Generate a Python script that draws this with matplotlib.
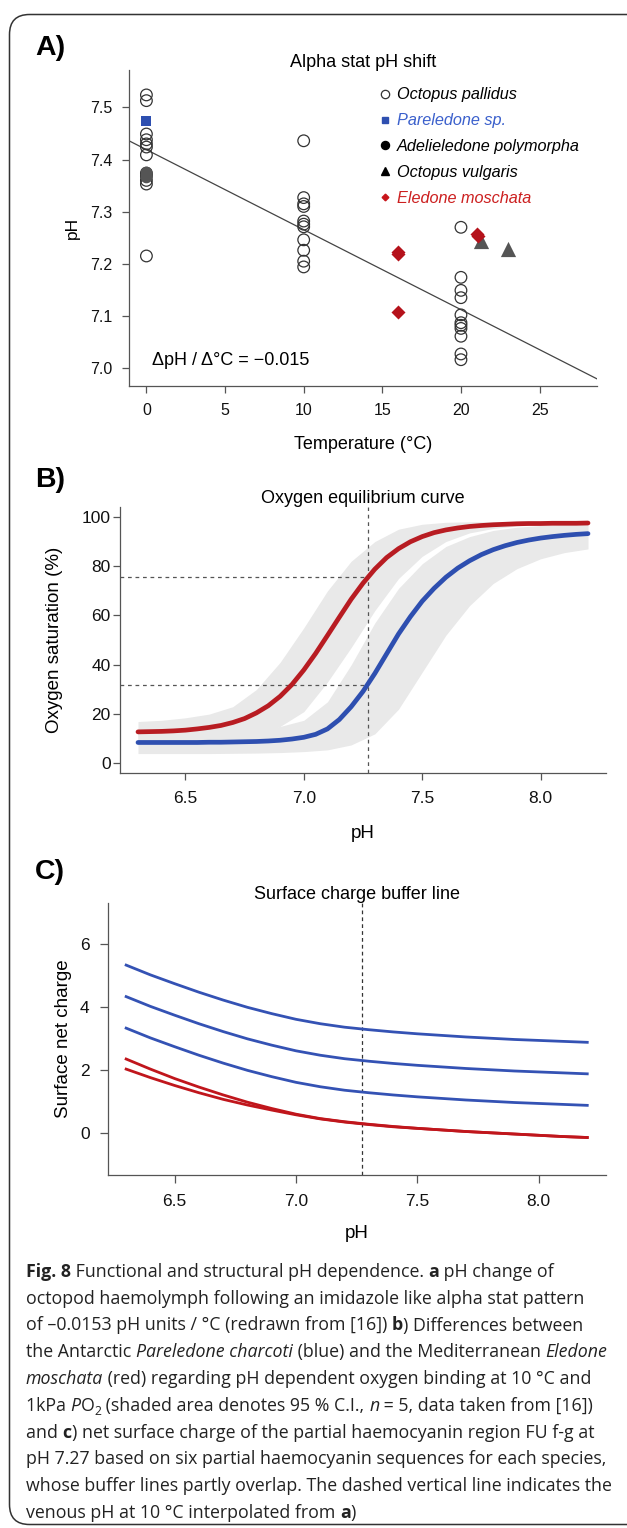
import matplotlib
matplotlib.use('Agg')
import matplotlib.pyplot as plt
from matplotlib.patches import FancyBboxPatch
from matplotlib.lines import Line2D

# ---------------- Panel A data ----------------
temp_pallidus = [0] * 12 + [10] * 11 + [20] * 11
ph_pallidus = [7.524, 7.513, 7.449, 7.438, 7.430, 7.424, 7.409, 7.374, 7.368, 7.360, 7.353, 7.215,
               7.436, 7.327, 7.315, 7.310, 7.282, 7.276, 7.271, 7.246, 7.226, 7.205, 7.194,
               7.270, 7.174, 7.149, 7.135, 7.102, 7.087, 7.082, 7.076, 7.061, 7.027, 7.016]
temp_pareledone = [0]
ph_pareledone = [7.474]
temp_adelieledone = [0, 0, 0]
ph_adelieledone = [7.376, 7.371, 7.366]
temp_vulgaris = [21.3, 23.0]
ph_vulgaris = [7.244, 7.229]
temp_eledone = [16.0, 16.0, 16.0, 21.0, 21.1]
ph_eledone = [7.222, 7.218, 7.108, 7.258, 7.254]
fit_intercept = 7.419
fit_slope = -0.01535
a_xticks = [0, 5, 10, 15, 20, 25]
a_yticks = [7.0, 7.1, 7.2, 7.3, 7.4, 7.5]
legend_labels = ["Octopus pallidus", "Pareledone sp.", "Adelieledone polymorpha",
                 "Octopus vulgaris", "Eledone moschata"]

# ---------------- Panel B data ----------------
ph_curve = [6.30, 6.35, 6.40, 6.45, 6.50, 6.55, 6.60, 6.65, 6.70, 6.75, 6.80, 6.85, 6.90,
            6.95, 7.00, 7.05, 7.10, 7.15, 7.20, 7.25, 7.30, 7.35, 7.40, 7.45, 7.50, 7.55,
            7.60, 7.65, 7.70, 7.75, 7.80, 7.85, 7.90, 7.95, 8.00, 8.05, 8.10, 8.15, 8.20]
sat_eledone = [12.8, 12.9, 13.0, 13.2, 13.5, 14.0, 14.6, 15.4, 16.6, 18.2, 20.5, 23.4, 27.2,
               32.0, 37.9, 44.6, 51.9, 59.3, 66.6, 73.1, 78.8, 83.5, 87.1, 89.9, 92.0, 93.6,
               94.7, 95.5, 96.1, 96.5, 96.8, 97.0, 97.2, 97.3, 97.3, 97.4, 97.4, 97.4, 97.5]
sat_pareledone = [8.5, 8.5, 8.5, 8.5, 8.5, 8.5, 8.6, 8.6, 8.7, 8.8, 8.9, 9.1, 9.4,
                  9.9, 10.6, 11.8, 14.0, 17.8, 23.0, 29.2, 36.5, 44.5, 52.5, 59.5, 65.8, 71.0,
                  75.5, 79.2, 82.2, 84.7, 86.7, 88.3, 89.6, 90.6, 91.4, 92.0, 92.5, 92.9, 93.2]
ph_band = [6.3, 6.4, 6.5, 6.6, 6.7, 6.8, 6.9, 7.0, 7.1, 7.2, 7.3, 7.4, 7.5, 7.6, 7.7,
           7.8, 7.9, 8.0, 8.1, 8.2]
eledone_lo = [9.0, 9.2, 9.5, 10.0, 10.8, 12.3, 15.0, 21.0, 33.0, 47.0, 62.0, 75.0, 84.0,
              90.0, 93.5, 95.3, 96.3, 96.8, 97.0, 97.2]
eledone_hi = [17.0, 17.5, 18.5, 20.0, 23.0, 30.0, 41.0, 55.0, 70.0, 82.0, 90.0, 95.0, 97.0,
              97.8, 98.0, 98.0, 98.0, 98.0, 98.0, 98.0]
pareledone_lo = [4.0, 4.0, 4.0, 4.0, 4.1, 4.2, 4.4, 4.8, 5.5, 7.5, 12.0, 22.0, 37.0, 52.0,
                 64.0, 73.0, 79.0, 83.0, 85.5, 87.0]
pareledone_hi = [13.0, 13.0, 13.0, 13.2, 13.5, 14.0, 15.0, 17.5, 25.0, 40.0, 57.0, 71.0,
                 81.0, 88.0, 92.0, 94.5, 95.8, 96.5, 97.0, 97.2]
venous_ph = 7.27
venous_sat = [75.5, 32.0]
b_yticks = [0, 20, 40, 60, 80, 100]
ph_ticks = [6.5, 7.0, 7.5, 8.0]

# ---------------- Panel C data ----------------
ph_charge = [6.3, 6.4, 6.5, 6.6, 6.7, 6.8, 6.9, 7.0, 7.1, 7.2, 7.3, 7.4, 7.5, 7.6, 7.7,
             7.8, 7.9, 8.0, 8.1, 8.2]
charge_pareledone = [
    [5.34, 5.03, 4.75, 4.48, 4.23, 4.00, 3.80, 3.62, 3.48, 3.37, 3.29, 3.22, 3.16, 3.11,
     3.06, 3.02, 2.98, 2.95, 2.92, 2.89],
    [4.34, 4.03, 3.75, 3.48, 3.23, 3.00, 2.80, 2.62, 2.48, 2.37, 2.29, 2.22, 2.16, 2.11,
     2.06, 2.02, 1.98, 1.95, 1.92, 1.89],
    [3.34, 3.03, 2.75, 2.48, 2.23, 2.00, 1.80, 1.62, 1.48, 1.37, 1.29, 1.22, 1.16, 1.11,
     1.06, 1.02, 0.98, 0.95, 0.92, 0.89],
]
charge_eledone = [
    [2.36, 2.04, 1.74, 1.47, 1.22, 0.99, 0.79, 0.61, 0.47, 0.37, 0.29, 0.22, 0.16, 0.11,
     0.06, 0.02, -0.02, -0.06, -0.10, -0.13],
    [2.04, 1.77, 1.52, 1.29, 1.08, 0.90, 0.74, 0.59, 0.46, 0.36, 0.28, 0.21, 0.16, 0.11,
     0.06, 0.02, -0.02, -0.06, -0.10, -0.13],
]
c_yticks = [0, 2, 4, 6]

# ---------------- caption ----------------
caption_lines = [
    [("Fig. 8", "b"), (" Functional and structural pH dependence. ", "n"), ("a", "b"),
     (" pH change of", "n")],
    [("octopod haemolymph following an imidazole like alpha stat pattern", "n")],
    [("of \u20130.0153 pH units / \u00b0C (redrawn from [16]) ", "n"), ("b", "b"),
     (") Differences between", "n")],
    [("the Antarctic ", "n"), ("Pareledone charcoti", "i"),
     (" (blue) and the Mediterranean ", "n"), ("Eledone", "i")],
    [("moschata", "i"), (" (red) regarding pH dependent oxygen binding at 10 \u00b0C and", "n")],
    [("1kPa ", "n"), ("P", "i"), ("O", "n"), ("2", "s"),
     (" (shaded area denotes 95 % C.I., ", "n"), ("n", "i"), (" = 5, data taken from [16])", "n")],
    [("and ", "n"), ("c", "b"), (") net surface charge of the partial haemocyanin region FU f-g at", "n")],
    [("pH 7.27 based on six partial haemocyanin sequences for each species,", "n")],
    [("whose buffer lines partly overlap. The dashed vertical line indicates the", "n")],
    [("venous pH at 10 \u00b0C interpolated from ", "n"), ("a", "b"), (")", "n")],
]

# ================= drawing =================
W, H = 627, 1528
plt.rcParams['font.family'] = ['Liberation Sans', 'DejaVu Sans']
fig = plt.figure(figsize=(W / 100, H / 100), dpi=100)
fig.patch.set_facecolor('white')

RED = '#b81c22'
BLUE = '#2e4fb0'
AXC = '#555555'

bg = fig.add_axes([0, 0, 1, 1], zorder=-5)
bg.set_xlim(0, W)
bg.set_ylim(H, 0)
bg.axis('off')
bg.add_patch(FancyBboxPatch((9.5, 14.5), 660, 1510, boxstyle='round,pad=0,rounding_size=20',
                            fill=False, ec='#333333', lw=1.1))


def px_axes(l, t, r, b):
    return fig.add_axes([l / W, 1 - b / H, (r - l) / W, (b - t) / H])


def style_ax(ax, fs, xpad, ypad, tlen):
    ax.set_facecolor('none')
    for s in ['top', 'right']:
        ax.spines[s].set_visible(False)
    for s in ['left', 'bottom']:
        ax.spines[s].set_color(AXC)
        ax.spines[s].set_linewidth(0.9)
    ax.tick_params(direction='out', length=tlen, width=0.9, color=AXC, labelsize=fs,
                   labelcolor='#111111')
    ax.tick_params(axis='x', pad=xpad)
    ax.tick_params(axis='y', pad=ypad)


# ---------- Panel A ----------
axA = px_axes(128.8, 70, 597, 385.5)
style_ax(axA, 11.5, 7.7, 7.0, 5)
axA.set_xlim(-1.12, 28.65)
axA.set_ylim(6.9665, 7.5718)
axA.set_xticks(a_xticks)
axA.set_yticks(a_yticks)
axA.set_yticklabels([f"{v:.1f}" for v in a_yticks])
axA.axline((0, fit_intercept), slope=fit_slope, color='#444444', lw=0.9, zorder=1)
axA.scatter(temp_pallidus, ph_pallidus, s=70, facecolors='none', edgecolors='#333333',
            linewidths=0.9, zorder=3)
axA.scatter(temp_adelieledone, ph_adelieledone, s=70, color='#555555', lw=0, zorder=3)
axA.scatter(temp_pareledone, ph_pareledone, s=62, marker='s', color=BLUE, lw=0, zorder=4)
axA.scatter(temp_vulgaris, ph_vulgaris, s=120, marker='^', color='#555555', lw=0, zorder=3)
axA.scatter(temp_eledone, ph_eledone, s=51, marker='D', color='#b5121b', lw=0, zorder=4)
axA.text(0.33, 7.006, "\u0394pH / \u0394\u00b0C = \u22120.015", fontsize=13, va='baseline',
         ha='left')
handles = [
    Line2D([], [], ls='none', marker='o', ms=6, mfc='none', mec='#333333', mew=0.9),
    Line2D([], [], ls='none', marker='s', ms=4.8, color=BLUE),
    Line2D([], [], ls='none', marker='o', ms=5.8, color='black'),
    Line2D([], [], ls='none', marker='^', ms=5.8, color='black'),
    Line2D([], [], ls='none', marker='D', ms=3.4, color='#c8151b'),
]
leg = axA.legend(handles, legend_labels, loc='upper left', bbox_to_anchor=(0.530, 0.945),
                 frameon=False, borderpad=0, borderaxespad=0, handlelength=1.0,
                 handletextpad=0.23, labelspacing=0.67, prop={'size': 11.7, 'style': 'italic'},
                 labelcolor=['black', '#3b60cc', 'black', 'black', '#cc1f1f'])

# ---------- Panel B ----------
axB = px_axes(120, 507, 606, 773.3)
style_ax(axB, 12.5, 7.7, 1.8, 5)
axB.set_xlim(6.224, 8.276)
axB.set_ylim(-4, 104)
axB.set_xticks(ph_ticks)
axB.set_xticklabels([f"{v:.1f}" for v in ph_ticks])
axB.set_yticks(b_yticks)
axB.fill_between(ph_band, eledone_lo, eledone_hi, color='#e9e9e9', lw=0, zorder=1)
axB.fill_between(ph_band, pareledone_lo, pareledone_hi, color='#e9e9e9', lw=0, zorder=1)
axB.axvline(venous_ph, color='#555555', lw=0.9, ls=(0, (3, 3)), zorder=2)
axB.hlines(venous_sat, axB.get_xlim()[0], venous_ph, color='#555555', lw=0.9,
           linestyles=[(0, (3, 3))], zorder=2)
axB.plot(ph_curve, sat_eledone, color=RED, lw=3.4, solid_capstyle='round', zorder=3)
axB.plot(ph_curve, sat_pareledone, color=BLUE, lw=3.4, solid_capstyle='round', zorder=3)

# ---------- Panel C ----------
axC = px_axes(107.7, 902.7, 605.7, 1175)
style_ax(axC, 12.5, 8.0, 7.0, 6)
axC.set_xlim(6.224, 8.276)
axC.set_ylim(-1.32, 7.32)
axC.set_xticks(ph_ticks)
axC.set_xticklabels([f"{v:.1f}" for v in ph_ticks])
axC.set_yticks(c_yticks)
axC.axvline(venous_ph, color='#333333', lw=0.9, ls=(0, (3, 2.5)), zorder=1)
for ys in charge_pareledone:
    axC.plot(ph_charge, ys, color='#3452b4', lw=2.0, zorder=2)
for ys in charge_eledone:
    axC.plot(ph_charge, ys, color='#c0161c', lw=2.0, zorder=2)

# ---------- texts on background ----------
for lab, yb in [("A)", 55), ("B)", 487), ("C)", 879)]:
    bg.text(35, yb, lab, fontsize=20.5, fontweight='bold', ha='left', va='baseline')
bg.text(363, 66.7, "Alpha stat pH shift", fontsize=13, ha='center', va='baseline')
bg.text(363, 503.3, "Oxygen equilibrium curve", fontsize=13, ha='center', va='baseline')
bg.text(356.7, 899.3, "Surface charge buffer line", fontsize=13, ha='center', va='baseline')
bg.text(363, 449, "Temperature (\u00b0C)", fontsize=13, ha='center', va='baseline')
bg.text(72, 228, "pH", fontsize=12.5, rotation=90, ha='center', va='center')
bg.text(363, 838, "pH", fontsize=13.5, ha='center', va='baseline')
bg.text(55, 640, "Oxygen saturation (%)", fontsize=13.5, rotation=90, ha='center', va='center')
bg.text(356.7, 1238, "pH", fontsize=13.5, ha='center', va='baseline')
bg.text(63, 1039, "Surface net charge", fontsize=13.5, rotation=90, ha='center', va='center')

# ---------- caption ----------
renderer = fig.canvas.get_renderer()
cap_family = ['Open Sans', 'Noto Sans', 'DejaVu Sans']


def run_kw(style, fs):
    kw = dict(family=cap_family, fontsize=fs, color='#222222')
    if style == 'b':
        kw['fontweight'] = 'bold'
    elif style == 'i':
        kw['fontstyle'] = 'italic'
    elif style == 's':
        kw['fontsize'] = fs * 0.68
    return kw


def text_w(s, kw):
    t1 = bg.text(0, 0, s + '|', **kw)
    w1 = t1.get_window_extent(renderer).width
    t1.remove()
    t2 = bg.text(0, 0, '|', **kw)
    w2 = t2.get_window_extent(renderer).width
    t2.remove()
    return w1 - w2


def line_w(runs, fs):
    return sum(text_w(s, run_kw(st, fs)) for s, st in runs)


base = 10.0
w_max = max(line_w(runs, base) for runs in caption_lines)
cap_fs = min(15.0, base * 586.0 / w_max)

for i, runs in enumerate(caption_lines):
    x = 26.0
    yb = 1277.0 + i * 26.75
    for s, st in runs:
        kw = run_kw(st, cap_fs)
        yy = yb + (4.0 if st == 's' else 0.0)
        bg.text(x, yy, s, ha='left', va='baseline', **kw)
        x += text_w(s, kw)

fig.savefig('out.png', dpi=100, facecolor='white')
